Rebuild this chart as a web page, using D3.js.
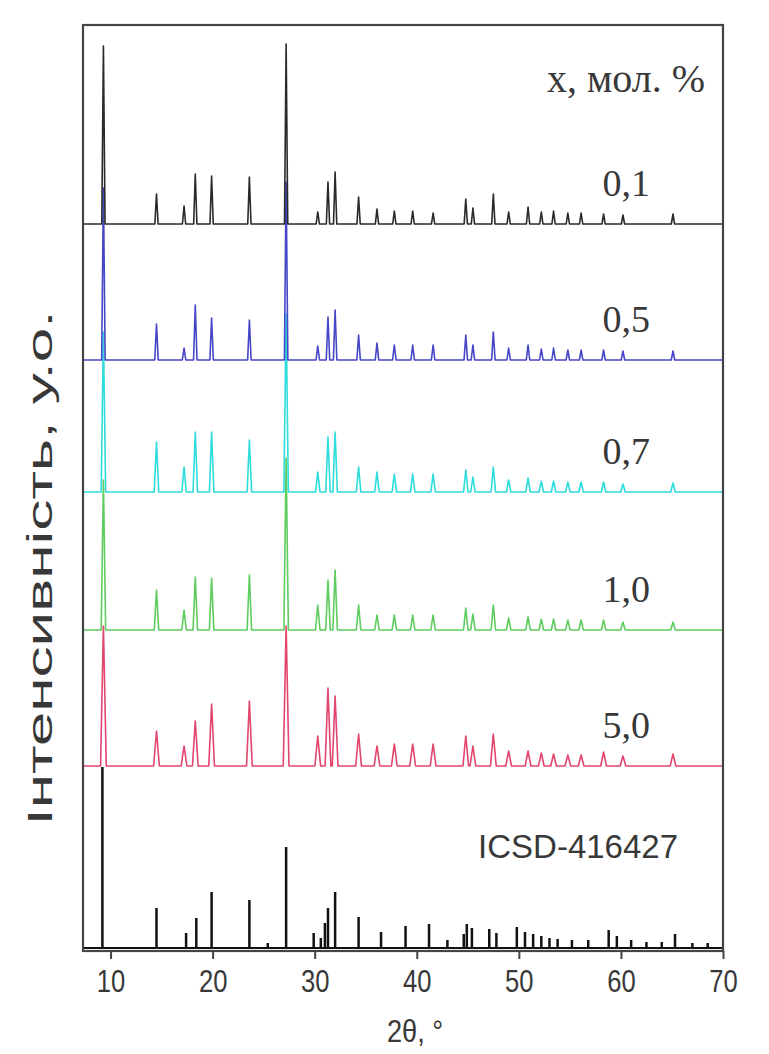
<!DOCTYPE html>
<html lang="uk">
<head>
<meta charset="UTF-8">
<title>XRD patterns</title>
<script src="https://d3js.org/d3.v7.min.js"></script>
<style>
  body { margin: 0; background: #fff; }
  text { font-family: "Liberation Sans", Arial, sans-serif; fill: #383838; }
  .serif { font-family: "Liberation Serif", "DejaVu Serif", serif; }
</style>
</head>
<body>
<svg id="chart" width="769" height="1054"></svg>
<script>
// 2θ positions of the measured reflections
const peakPos = [9.3, 14.5, 17.2, 18.3, 19.9, 23.6, 27.2, 30.3, 31.3, 32.0, 34.3, 36.1, 37.8, 39.6, 41.6, 44.8, 45.5, 47.5, 49.0, 50.9, 52.2, 53.4, 54.8, 56.1, 58.3, 60.2, 65.1];

// peak heights for each sample (arbitrary units)
const h01 = [178, 30, 18, 50, 48, 47, 180, 12, 42, 52, 27, 15, 13, 13, 11, 25, 16, 30, 12, 17, 12, 13, 11, 11, 10, 9, 10];
const h05 = [172, 36, 12, 55, 42, 40, 178, 14, 43, 50, 25, 17, 15, 15, 15, 25, 15, 28, 12, 15, 11, 12, 10, 10, 10, 9, 9];
const h07 = [160, 50, 25, 60, 60, 52, 178, 20, 55, 60, 25, 20, 18, 18, 18, 22, 15, 25, 12, 14, 11, 11, 10, 10, 10, 8, 9];
const h10 = [150, 40, 20, 53, 52, 55, 172, 25, 50, 60, 25, 15, 15, 15, 15, 22, 16, 25, 12, 13, 11, 11, 10, 10, 10, 8, 8];
const h50 = [140, 35, 20, 45, 62, 65, 140, 30, 78, 70, 32, 20, 22, 22, 22, 30, 20, 32, 15, 15, 13, 12, 11, 11, 14, 10, 12];

// reference pattern ICSD-416427 (stick positions and intensities)
const icsdPos = [9.2, 14.5, 17.4, 18.4, 19.9, 23.6, 25.4, 27.2, 29.9, 30.6, 31.0, 31.3, 32.0, 34.3, 36.5, 38.9, 41.2, 43.0, 44.6, 44.9, 45.4, 47.1, 47.8, 49.8, 50.6, 51.4, 52.2, 53.0, 53.8, 55.2, 56.8, 58.8, 59.6, 61.0, 62.5, 64.0, 65.3, 67.0, 68.5];
const icsdInt = [181, 40, 15, 30, 56, 48, 5, 101, 15, 10, 25, 40, 56, 31, 16, 22, 24, 8, 14, 24, 20, 19, 15, 21, 16, 14, 12, 10, 9, 8, 8, 18, 12, 8, 6, 6, 14, 5, 5];

// sample labels (x, mol. %)
const sampleLabels = ["0,1", "0,5", "0,7", "1,0", "5,0"];
const sampleOffsets = [727, 591, 459, 321, 185];
const sampleColors = ["#2a2a2a", "#4646c8", "#2fdcdc", "#5fcc5f", "#e2456e"];
const sampleWidths = [0.16, 0.17, 0.22, 0.22, 0.28];
const sampleHeights = [h01, h05, h07, h10, h50];
const icsdOffset = 3;

const xTicks = [10, 20, 30, 40, 50, 60, 70];

const W = 769, H = 1054;
const mLeft = 83, mRight = 723, mTop = 25, mBottom = 951;

const svg = d3.select("#chart");
svg.append("rect").attr("width", W).attr("height", H).attr("fill", "#fff");

const x = d3.scaleLinear().domain([7.3, 70]).range([mLeft, mRight]);
const y = d3.scaleLinear().domain([0, mBottom - mTop]).range([mBottom, mTop]);

const line = d3.line().x(d => x(d[0])).y(d => y(d[1]));

const plot = svg.append("g");

// reference sticks
plot.append("line")
    .attr("x1", x(7.3)).attr("x2", x(70))
    .attr("y1", y(icsdOffset)).attr("y2", y(icsdOffset))
    .attr("stroke", "#111").attr("stroke-width", 2);
plot.selectAll(".stick")
    .data(icsdPos.map((p, i) => [p, icsdInt[i]]))
    .join("line")
    .attr("class", "stick")
    .attr("x1", d => x(d[0])).attr("x2", d => x(d[0]))
    .attr("y1", y(icsdOffset)).attr("y2", d => y(icsdOffset + d[1]))
    .attr("stroke", "#111").attr("stroke-width", 2.5);

// measured patterns, bottom one first
for (let s = sampleLabels.length - 1; s >= 0; s--) {
    const off = sampleOffsets[s], w = sampleWidths[s], hs = sampleHeights[s];
    const pts = [[7.3, off]];
    peakPos.forEach((p, i) => {
        pts.push([p - w, off], [p, off + hs[i]], [p + w, off]);
    });
    pts.push([70, off]);
    plot.append("path")
        .datum(pts)
        .attr("d", line)
        .attr("fill", "none")
        .attr("stroke", sampleColors[s])
        .attr("stroke-width", 1.6)
        .attr("stroke-linejoin", "round");
}

// frame
svg.append("rect")
    .attr("x", mLeft).attr("y", mTop)
    .attr("width", mRight - mLeft).attr("height", mBottom - mTop)
    .attr("fill", "none").attr("stroke", "#444").attr("stroke-width", 2.2);

// x axis
const ax = svg.append("g")
    .attr("transform", `translate(0,${mBottom})`)
    .call(d3.axisBottom(x).tickValues(xTicks).tickSize(8).tickSizeOuter(0).tickPadding(10));
ax.select(".domain").remove();
ax.selectAll("line").attr("stroke", "#444").attr("stroke-width", 2);
ax.selectAll("text")
    .style("font-size", "32px")
    .style("font-family", "'Liberation Sans', Arial, sans-serif")
    .attr("transform", "scale(0.8,1)")
    .attr("fill", "#383838");

svg.append("text")
    .attr("transform", "translate(415,1042) scale(0.85,1)")
    .attr("text-anchor", "middle")
    .style("font-size", "32px")
    .text("2θ, °");

svg.append("text")
    .attr("transform", "translate(52,568) rotate(-90)")
    .attr("text-anchor", "middle")
    .attr("textLength", 515)
    .attr("lengthAdjust", "spacingAndGlyphs")
    .style("font-size", "35px")
    .text("Інтенсивність, у.о.");

// legend title and labels
svg.append("text")
    .attr("class", "serif")
    .attr("x", 705).attr("y", 92)
    .attr("text-anchor", "end")
    .style("font-size", "40px")
    .text("х, мол. %");

sampleLabels.forEach((t, i) => {
    svg.append("text")
        .attr("class", "serif")
        .attr("x", 650).attr("y", y(sampleOffsets[i]) - 28)
        .attr("text-anchor", "end")
        .style("font-size", "38px")
        .text(t);
});

svg.append("text")
    .attr("x", 678).attr("y", 858)
    .attr("text-anchor", "end")
    .style("font-size", "33px")
    .text("ICSD-416427");
</script>
</body>
</html>
